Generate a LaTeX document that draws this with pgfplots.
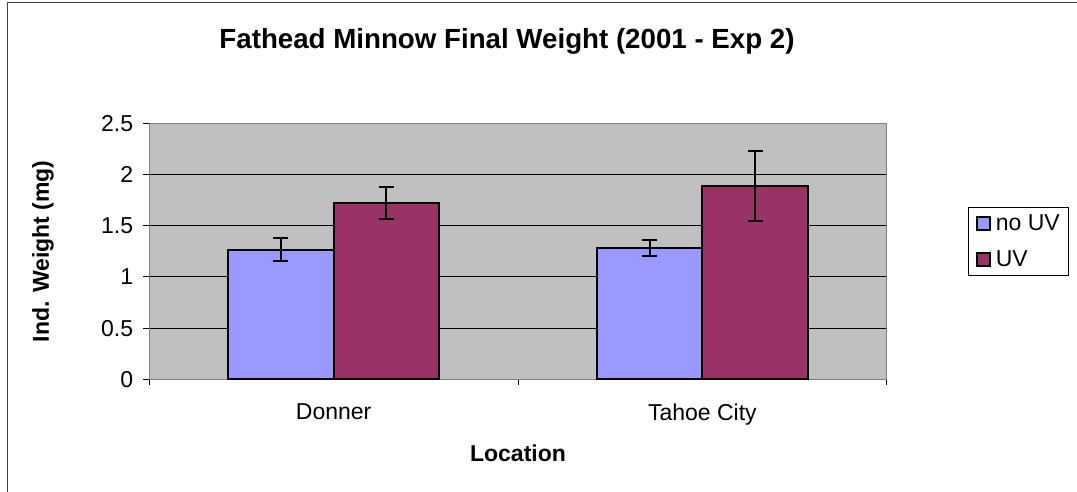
\documentclass[border=0pt]{standalone}
\usepackage{pgfplots}
\pgfplotsset{compat=1.18}
\usepackage{fontspec}
\setmainfont{Liberation Sans}

\definecolor{noUV}{HTML}{9999FF}
\definecolor{UVc}{HTML}{993366}
\definecolor{plotbg}{HTML}{C0C0C0}
\definecolor{frameg}{HTML}{808080}

\newcommand{\lbl}{\fontsize{23}{27}\selectfont}

\begin{document}
\begin{tikzpicture}[x=1pt,y=1pt]
\useasboundingbox (0,0) rectangle (1077,492);
\draw[line width=1.5pt, color=black!75] (7.5,0) -- (7.5,489.5) -- (1077,489.5);

\begin{axis}[
  at={(149.3pt,112.7pt)}, anchor=south west,
  scale only axis, width=737.4pt, height=256pt,
  ybar=0pt, bar width=105.5pt,
  xmin=0.5, xmax=2.5, ymin=0, ymax=2.5,
  axis background/.style={fill=plotbg},
  axis line style={frameg, line width=1.5pt},
  tick pos=left,
  xtick={1,2}, xticklabels={Donner,Tahoe City},
  minor xtick={0.5,1.5,2.5},
  major x tick style={draw=none},
  minor x tick style={black, line width=1pt},
  ytick={0,0.5,1,1.5,2,2.5},
  yticklabels={0,0.5,1,1.5,2,2.5},
  y tick style={black, line width=1pt},
  tick align=outside, major tick length=6pt, minor tick length=6pt,
  ymajorgrids, grid style={black, line width=1pt},
  ticklabel style={font=\lbl},
  xticklabel style={anchor=north, inner sep=0pt, yshift=-18pt},
  yticklabel style={anchor=east, inner sep=0pt, xshift=-10pt},
  title={\textbf{Fathead Minnow Final Weight (2001 - Exp 2)}},
  title style={font=\fontsize{27.7}{32}\selectfont, at={(axis description cs:0.4851,1.298)}, anchor=center},
  xlabel={\textbf{Location}},
  xlabel style={font=\lbl, at={(axis description cs:0.5,-0.2879)}, anchor=center},
  ylabel={\textbf{Ind. Weight (mg)}},
  ylabel style={font=\lbl, at={(axis description cs:-0.1442,0.5)}, anchor=center, rotate=0},
  legend style={font=\lbl, at={(axis description cs:1.1107,0.6719)}, anchor=north west,
    draw=black, line width=1pt, fill=white, inner xsep=7pt, inner ysep=5pt,
    row sep=15pt, column sep=3pt},
  legend cell align=left,
  legend image code/.code={\draw[#1, draw=black, line width=2pt] (0pt,-6.5pt) rectangle (13pt,6.5pt);},
  error bars/error bar style={black, line width=2pt},
  error bars/error mark options={black, rotate=90, mark size=7.5pt, line width=2pt},
]
\addplot[fill=noUV, draw=black, line width=2pt,
  error bars/.cd, y dir=both, y explicit] coordinates {
  (1,1.266) +- (0,0.111)
  (2,1.280) +- (0,0.078)
};
\addplot[fill=UVc, draw=black, line width=2pt,
  error bars/.cd, y dir=both, y explicit] coordinates {
  (1,1.725) +- (0,0.155)
  (2,1.890) +- (0,0.341)
};
\legend{no UV,UV}
\end{axis}
\end{tikzpicture}
\end{document}
